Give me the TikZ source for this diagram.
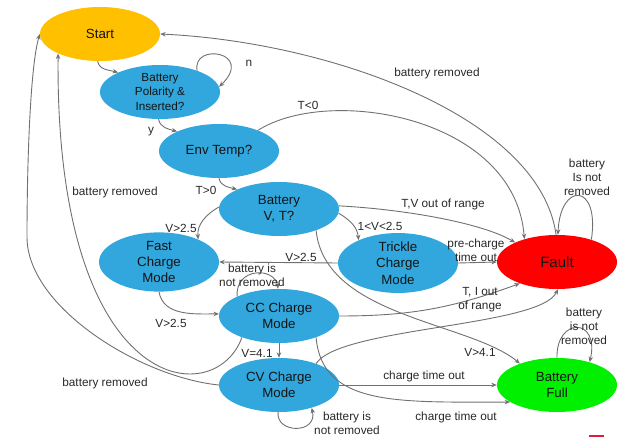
\documentclass[tikz,border=0pt]{standalone}
\usepackage{fontspec}
\setmainfont{Liberation Sans}
\usetikzlibrary{shapes.geometric,arrows.meta}
\definecolor{nodeblue}{RGB}{49,167,221}
\definecolor{startorange}{RGB}{255,192,0}
\definecolor{faultred}{RGB}{255,0,0}
\definecolor{fullgreen}{RGB}{0,240,0}
\definecolor{edgegray}{RGB}{112,112,112}
\definecolor{labelgray}{RGB}{40,40,40}
\definecolor{txt}{RGB}{20,20,20}
\definecolor{markred}{RGB}{220,30,60}
\begin{document}
\begin{tikzpicture}[x=1pt,y=1pt,
  state/.style={ellipse, minimum width=120pt, minimum height=54pt, inner sep=0pt,
    align=center, text=txt, font=\fontsize{13.3}{16.3}\selectfont},
  conn/.style={draw=edgegray, line width=0.9pt, -{Stealth[length=5.5pt,width=4.5pt]}},
  lbl/.style={text=labelgray, font=\fontsize{11.8}{14}\selectfont, align=center, inner sep=0pt}]
\useasboundingbox (0,0) rectangle (618,437);
% nodes
\node[state, fill=startorange] (start) at (100,403) {Start};
\node[state, fill=nodeblue, font=\fontsize{11.7}{14.5}\selectfont] (bp) at (160,345) {Battery\\Polarity \&\\Inserted?};
\node[state, fill=nodeblue] (env) at (219,286) {Env Temp?};
\node[state, fill=nodeblue] (bvt) at (279,228) {Battery\\V, T?};
\node[state, fill=nodeblue] (fast) at (159,175) {Fast\\Charge\\Mode};
\node[state, fill=nodeblue] (trickle) at (398,174) {Trickle\\Charge\\Mode};
\node[state, fill=faultred, font=\fontsize{15}{18}\selectfont] (fault) at (557,175) {Fault};
\node[state, fill=nodeblue] (cc) at (279,121) {CC Charge\\Mode};
\node[state, fill=nodeblue] (cv) at (279,52) {CV Charge\\Mode};
\node[state, fill=fullgreen] (full) at (557,52) {Battery\\Full};
% connectors
\draw[conn] (start.-95) to[out=-80,in=165] (bp.155);
\draw[conn] (bp.30) .. controls (192,395) and (255,385) .. (bp.5);
\node[lbl] (ln) at (249,374) {n};
\draw[conn] (bp.-93) to[out=-80,in=165] (env.155);
\node[lbl] (ly) at (151,305) {y};
\draw[conn] (env.28) .. controls (330,352) and (515,320) .. (fault.145);
\node[lbl] (lt0) at (308,332) {T<0};
\draw[conn] (fault.92) .. controls (540,320) and (330,395) .. (start.0);
\node[lbl] (lbr1) at (437,364) {battery removed};
\draw[conn] (fault.33) .. controls (600,255) and (560,255) .. (fault.88);
\node[lbl] (lfl) at (587,260) {battery\\Is not\\removed};
\draw[conn] (env.-90) to[out=-80,in=165] (bvt.155);
\node[lbl] (lt1) at (206,247) {T>0};
\draw[conn] (bvt.178) to[out=210,in=95] (fast.30);
\node[lbl] (lv1) at (181,209) {V>2.5};
\draw[conn] (bvt.-4) to[out=-30,in=95] (trickle.150);
\node[lbl] (lv2) at (380,211) {1<V<2.5};
\draw[conn] (bvt.3) .. controls (400,228) and (480,215) .. (fault.155);
\node[lbl] (ltv) at (443,233) {T,V out of range};
\draw[conn] (bvt.-30) .. controls (325,120) and (470,115) .. (full.150);
\node[lbl] (lv41) at (480,85) {V>4.1};
\draw[conn] (trickle.180) -- (fast.0);
\node[lbl] (lv3) at (301,180) {V>2.5};
\draw[conn] (trickle.0) -- (fault.180);
\node[lbl] (lpc) at (476,187) {pre-charge\\time out};
\draw[conn] (fast.-90) to[out=-80,in=180] (cc.178);
\node[lbl] (lv4) at (171,114) {V>2.5};
\draw[conn] (cc.155) .. controls (235,170) and (275,170) .. (cc.92);
\node[lbl] (lcc) at (252,161.5) {battery is\\not removed};
\draw[conn] (cc.-150) .. controls (215,25) and (55,40) .. (start.-155);
\node[lbl] (lbr2) at (115,245) {battery removed};
\draw[conn] (cc.-90) -- (cv.90);
\node[lbl] (lv5) at (257,84) {V=4.1};
\draw[conn] (cc.0) to[out=0,in=200] (fault.-150);
\node[lbl] (lti) at (480,137) {T, I out\\of range};
\draw[conn] (cv.30) .. controls (340,110) and (540,110) .. (fault.-88);
\draw[conn] (cv.0) -- (full.180);
\node[lbl] (lct1) at (424,61) {charge time out};
\draw[conn] (cc.-30) .. controls (322,30) and (400,35) .. (full.-160);
\node[lbl] (lct2) at (456,20) {charge time out};
\draw[conn] (cv.-92) .. controls (276,3) and (318,3) .. (cv.-35);
\node[lbl] (lcv) at (347,14) {battery is\\not removed};
\draw[conn] (full.90) .. controls (556,120) and (600,120) .. (full.35);
\node[lbl] (lfu) at (584,111) {battery\\is not\\removed};
\coordinate (bend) at (27,200);
\draw[conn] (cv.180) .. controls (140,60) and (27,130) .. (bend) .. controls (27,270) and (30,370) .. (start.180);
\node[lbl] (lbr3) at (105,54) {battery removed};
% small red mark
\fill[markred] (589,0) rectangle (604,2.5);
\end{tikzpicture}
\end{document}
